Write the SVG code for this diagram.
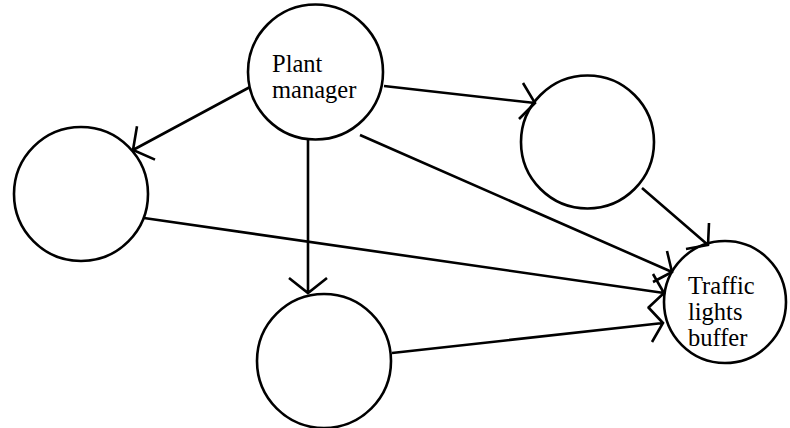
<svg xmlns="http://www.w3.org/2000/svg" width="790" height="428" viewBox="0 0 790 428">
<style>
.node{fill:#fff;stroke:#000;stroke-width:2.6}
.edge{fill:none;stroke:#000;stroke-width:2.6;stroke-linejoin:miter}
.lbl{font-family:"Liberation Serif","Times New Roman",serif;font-size:24.5px;fill:#000}
</style>
<rect width="790" height="428" fill="#fff"/>
<g id="n-plant"><circle class="node" cx="315.5" cy="72" r="67.5"/><text class="lbl" x="272" y="72">Plant</text><text class="lbl" x="272" y="98">manager</text></g>
<g id="n-left"><circle class="node" cx="81" cy="194" r="67"/></g>
<g id="n-topright"><circle class="node" cx="587.5" cy="142" r="66.5"/></g>
<g id="n-bottom"><circle class="node" cx="324" cy="361" r="67"/></g>
<g id="n-traffic"><circle class="node" cx="725" cy="302" r="61"/><text class="lbl" x="688" y="294">Traffic</text><text class="lbl" x="688" y="320">lights</text><text class="lbl" x="688" y="346">buffer</text></g>
<g id="connectors">
<path class="edge" d="M250,87 L133,150 M137,126.3 L133,150 L155,159.6"/>
<path class="edge" d="M384,86 L535,103 M523,83 L535,103 L519,119"/>
<path class="edge" d="M308,140 L308,293 M289,278 L308,293 L327,278"/>
<path class="edge" d="M360,135 L672,272 M667,251 L672,272 L653,282"/>
<path class="edge" d="M144,218 L664,293 M653,274 L664,293 L648,308"/>
<path class="edge" d="M392,353 L663,323 M648,307 L663,323 L652,342"/>
<path class="edge" d="M642,188 L708,245 M709,223 L708,245 L686,249"/>
</g>
</svg>
